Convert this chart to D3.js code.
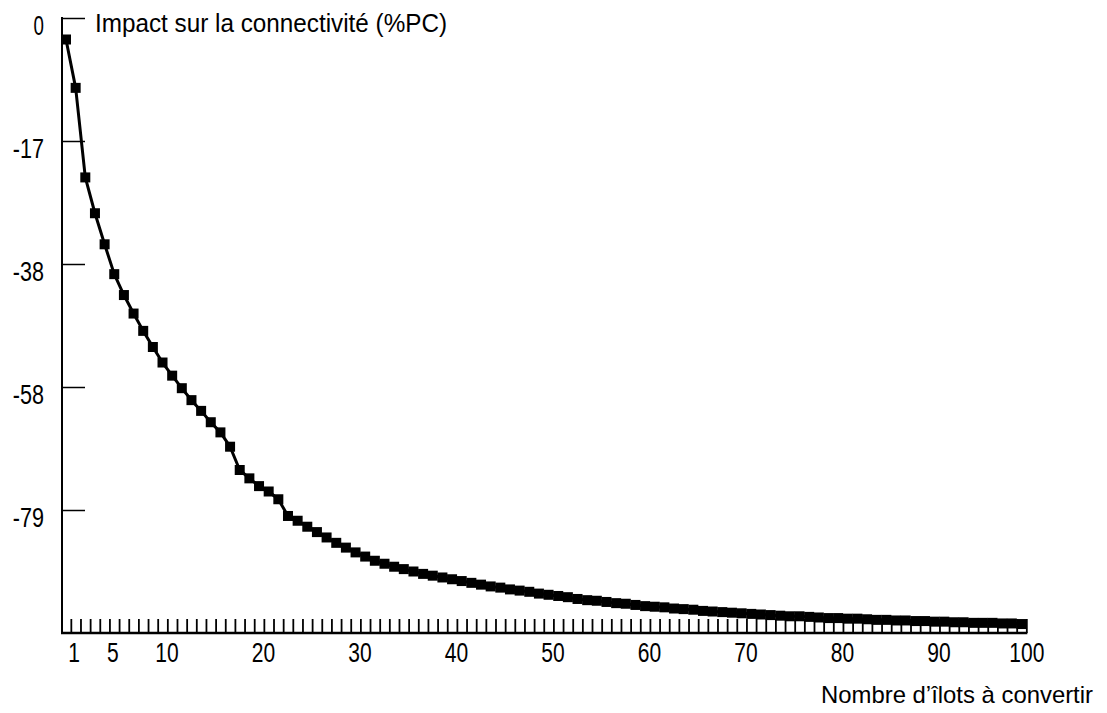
<!DOCTYPE html>
<html>
<head>
<meta charset="utf-8">
<script src="https://cdn.jsdelivr.net/npm/d3@7"></script>
<style>
  html, body { margin: 0; padding: 0; background: #fff; }
  text { font-family: "Liberation Sans", Arial, sans-serif; fill: #000; }
</style>
</head>
<body>
<svg id="chart" width="1107" height="713"></svg>
<script>
// ---- data ----
const islands = d3.range(1, 101);
const impact = [
  0.0, -8.1, -23.1, -29.1, -34.3, -39.3, -42.8, -45.9, -48.8, -51.5,
  -54.1, -56.3, -58.4, -60.4, -62.2, -64.1, -65.8, -68.2, -72.1, -73.5,
  -74.8, -75.7, -77.0, -79.8, -80.6, -81.6, -82.5, -83.4, -84.3, -85.1,
  -85.9, -86.6, -87.3, -87.8, -88.3, -88.7, -89.1, -89.5, -89.8, -90.1,
  -90.4, -90.7, -91.0, -91.3, -91.6, -91.8, -92.1, -92.3, -92.5, -92.8,
  -93.0, -93.2, -93.4, -93.7, -93.9, -94.0, -94.2, -94.4, -94.5, -94.7,
  -94.9, -95.0, -95.1, -95.3, -95.4, -95.5, -95.7, -95.8, -95.9, -96.0,
  -96.1, -96.2, -96.3, -96.4, -96.5, -96.6, -96.6, -96.7, -96.8, -96.9,
  -96.9, -97.0, -97.0, -97.1, -97.2, -97.2, -97.3, -97.3, -97.4, -97.4,
  -97.5, -97.5, -97.6, -97.6, -97.7, -97.7, -97.7, -97.8, -97.8, -97.9
];
const yTickValues = [3.6, -17, -37.6, -58.2, -78.8];
const yTickLabels = ["0", "-17", "-38", "-58", "-79"];
const xTickLabels = [1, 5, 10, 20, 30, 40, 50, 60, 70, 80, 90, 100];
const yTitle = "Impact sur la connectivité (%PC)";
const xTitle = "Nombre d’îlots à convertir";

// ---- layout ----
const svg = d3.select("#chart");
const axisX = 62;          // y-axis position (px)
const x = d3.scaleLinear().domain([1, 100]).range([66, 1021.5]);
const y = d3.scaleLinear().domain([-99.4, 3.6]).range([633, 18]);
const baseY = y(-99.4);
const charW = 11.7;        // condensed digit width
const labelSize = 28;

// y axis line
svg.append("line")
  .attr("x1", axisX).attr("x2", axisX)
  .attr("y1", y(3.6) - 1).attr("y2", baseY + 1)
  .attr("stroke", "#000").attr("stroke-width", 2);
// x axis line
svg.append("line")
  .attr("x1", axisX - 1).attr("x2", x(100.5) + 1)
  .attr("y1", baseY).attr("y2", baseY)
  .attr("stroke", "#000").attr("stroke-width", 2.5);

// y ticks (inward) via axis
const yAxis = d3.axisRight(y).tickValues(yTickValues).tickSize(23).tickFormat("");
const gy = svg.append("g").attr("transform", `translate(${axisX},0)`).call(yAxis);
gy.select(".domain").remove();
gy.selectAll(".tick line").attr("stroke", "#000").attr("stroke-width", 1.5);

// y labels
svg.append("g").selectAll("text")
  .data(yTickValues)
  .join("text")
  .attr("x", 44)
  .attr("y", d => y(d) + 17)
  .attr("text-anchor", "end")
  .style("font-size", labelSize + "px")
  .attr("textLength", (d, i) => yTickLabels[i].length * 10.4)
  .attr("lengthAdjust", "spacingAndGlyphs")
  .text((d, i) => yTickLabels[i]);

// x small ticks via axis
const xAxisTicks = d3.axisTop(x).tickValues(islands.map(d => d + 0.5)).tickSize(14).tickFormat("");
const gx = svg.append("g").attr("transform", `translate(0,${baseY})`).call(xAxisTicks);
gx.select(".domain").remove();
gx.selectAll(".tick line").attr("stroke", "#000").attr("stroke-width", 1.8);

// x labels via axis
const xAxisLabels = d3.axisBottom(x).tickValues(xTickLabels.map(d => d + 0.5))
  .tickSize(0).tickFormat(d => String(d - 0.5));
const gxl = svg.append("g").attr("transform", `translate(0,${baseY})`).call(xAxisLabels);
gxl.attr("font-size", null).attr("font-family", null);
gxl.select(".domain").remove();
gxl.selectAll(".tick text")
  .style("font-size", labelSize + "px")
  .attr("fill", "#000")
  .attr("dy", null)
  .attr("y", 29)
  .attr("x", (d, i, n) => i === n.length - 1 ? 0 : -3)
  .attr("text-anchor", (d, i, n) => i === n.length - 1 ? "middle" : "start")
  .attr("textLength", d => String(d - 0.5).length * charW)
  .attr("lengthAdjust", "spacingAndGlyphs");

// line
const line = d3.line().x((d, i) => x(islands[i])).y(d => y(d));
svg.append("path")
  .datum(impact)
  .attr("d", line)
  .attr("fill", "none")
  .attr("stroke", "#000")
  .attr("stroke-width", 3)
  .attr("stroke-linejoin", "round");

// markers
const ms = 10;
svg.append("g").selectAll("rect")
  .data(impact)
  .join("rect")
  .attr("x", (d, i) => x(islands[i]) - ms / 2)
  .attr("y", d => y(d) - ms / 2)
  .attr("width", ms).attr("height", ms)
  .attr("fill", "#000");

// titles
svg.append("text")
  .attr("x", 95).attr("y", 32)
  .style("font-size", "25px")
  .attr("textLength", 352)
  .attr("lengthAdjust", "spacingAndGlyphs")
  .text(yTitle);
svg.append("text")
  .attr("x", 821).attr("y", 703)
  .style("font-size", "24px")
  .attr("textLength", 272)
  .attr("lengthAdjust", "spacingAndGlyphs")
  .text(xTitle);
</script>
</body>
</html>
